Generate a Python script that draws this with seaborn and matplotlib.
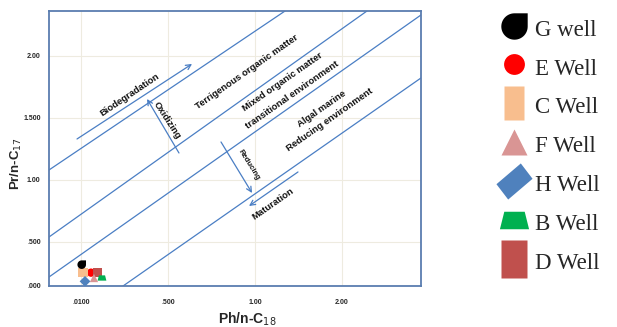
import numpy as np
import pandas as pd
import matplotlib
matplotlib.use("Agg")
import matplotlib.pyplot as plt
from matplotlib.path import Path
from matplotlib.lines import Line2D
import seaborn as sns

# ---------------- data ----------------
wells = ["G well", "E Well", "C Well", "F Well", "H Well", "B Well", "D Well"]
# positions expressed in the chart's own (tick-index) axis units
ph_n_c18 = [0.008, 0.115, 0.020, 0.149, 0.046, 0.241, 0.188]
pr_n_c17 = [0.344, 0.215, 0.215, 0.129, 0.075, 0.129, 0.215]
colors = ["#000000", "#FF0000", "#F8BE8E", "#D99594", "#4F81BD", "#00B050", "#C0504D"]

x_tick_pos = [0, 1, 2, 3]
x_tick_labels = [".0100", ".500", "1.00", "2.00"]
y_tick_pos = [0, 0.71, 1.71, 2.71, 3.71]
y_tick_labels = [".000", ".500", "1.00", "1.500", "2.00"]

# boundary lines (start, end) in axis units
boundary_x = [[-0.368, 2.345], [-0.368, 3.287], [-0.368, 3.908], [0.483, 3.908]]
boundary_y = [[1.871, 4.435], [0.790, 4.435], [0.145, 4.371], [0.0, 3.355]]

# ---------------- markers ----------------
t = np.radians(np.linspace(0, -270, 40))
drop = Path(np.vstack([np.c_[np.cos(t), np.sin(t)], [[1, 1]], [[1, 0]]]))
trap = [(-1, -0.6), (1, -0.6), (0.7, 0.6), (-0.7, 0.6)]
tallrect = [(-0.6, -1), (0.6, -1), (0.6, 1), (-0.6, 1)]
tallrect2 = [(-0.7, -1), (0.7, -1), (0.7, 1), (-0.7, 1)]
diamond = [(-1, -0.15), (-0.35, -1), (1, 0.15), (0.35, 1)]

plot_markers = {"G well": drop, "E Well": "o", "C Well": "s", "F Well": "^",
                "H Well": "D", "B Well": trap, "D Well": "s"}
plot_sizes = {"G well": 38, "E Well": 36, "C Well": 48, "F Well": 36,
              "H Well": 30, "B Well": 40, "D Well": 45}
zorders = {"G well": 5, "E Well": 3, "C Well": 4, "F Well": 5,
           "H Well": 6, "B Well": 5, "D Well": 4}

df = pd.DataFrame({"well": wells, "x": ph_n_c18, "y": pr_n_c17, "color": colors})

# ---------------- figure ----------------
sns.set_style("white")
plt.rcParams["font.family"] = ["Liberation Sans", "DejaVu Sans"]

fig = plt.figure(figsize=(6.17, 3.27), dpi=100)
ax = fig.add_axes([49 / 617, 41 / 327, 372 / 617, 275 / 327])

line_c = "#4A7EC4"
for bx, by in zip(boundary_x, boundary_y):
    sns.lineplot(x=bx, y=by, ax=ax, color=line_c, lw=0.9, sort=False, zorder=2)

for _, r in df.iterrows():
    sns.scatterplot(x=[r.x], y=[r.y], ax=ax, marker=plot_markers[r.well],
                    s=plot_sizes[r.well], color=r.color, edgecolor="none",
                    zorder=zorders[r.well], legend=False)

# arrows
arrows = [((-0.046, 2.371), (1.276, 3.581)),
          ((1.126, 2.145), (0.759, 3.016)),
          ((1.609, 2.323), (1.966, 1.500)),
          ((2.494, 1.839), (1.931, 1.290))]
for s0, s1 in arrows:
    ax.annotate("", xy=s1, xytext=s0,
                arrowprops=dict(arrowstyle="->", color=line_c, lw=0.9,
                                shrinkA=0, shrinkB=0, mutation_scale=9))

tkw = dict(ha="center", va="center", rotation_mode="anchor",
           fontweight="bold", color="#111111")
fs = 6.8
ax.text(0.563, 3.08, "Biodegradation", rotation=34, fontsize=fs, **tkw)
ax.text(1.908, 3.452, "Terrigenous organic matter", rotation=35, fontsize=fs, **tkw)
ax.text(2.322, 3.29, "Mixed organic matter", rotation=35, fontsize=fs, **tkw)
ax.text(2.425, 3.08, "transitional environment", rotation=35, fontsize=fs, **tkw)
ax.text(2.77, 2.855, "Algal marine", rotation=35, fontsize=fs, **tkw)
ax.text(2.862, 2.677, "Reducing environment", rotation=35, fontsize=fs, **tkw)
ax.text(0.989, 2.677, "Oxidizing", rotation=-57, fontsize=fs, **tkw)
ax.text(1.93, 1.95, "Reducing", rotation=-58, fontsize=5.5, **tkw)
ax.text(2.207, 1.32, "Maturation", rotation=35, fontsize=fs, **tkw)

ax.set_xlim(-0.368, 3.908)
ax.set_ylim(0, 4.435)
ax.set_xticks(x_tick_pos)
ax.set_xticklabels(x_tick_labels, fontsize=5, fontweight="bold")
ax.set_yticks(y_tick_pos)
ax.set_yticklabels(y_tick_labels, fontsize=5, fontweight="bold")
ax.tick_params(axis="x", length=0, pad=9)
ax.tick_params(axis="y", length=0, pad=6)
ax.grid(True, color="#EEEBE0", lw=0.8)
ax.set_axisbelow(True)
for sp in ax.spines.values():
    sp.set_color("#5A7DB0")
    sp.set_linewidth(1.3)

ax.set_xlabel("Ph/n-C$_{18}$", fontsize=10, fontweight="bold")
ax.set_ylabel("Pr/n-C$_{17}$", fontsize=9.5, fontweight="bold")
ax.xaxis.set_label_coords(0.532, -0.088)
ax.yaxis.set_label_coords(-0.066, 0.447)

# ---------------- legend ----------------
leg_markers = [drop, "o", tallrect, "^", diamond, trap, tallrect2]
leg_sizes = [19, 15, 24, 19, 26, 21, 27]
handles = [Line2D([], [], linestyle="none", marker=m, markersize=ms,
                  markerfacecolor=c, markeredgecolor="none")
           for m, ms, c in zip(leg_markers, leg_sizes, colors)]
leg = fig.legend(handles, wells, loc="upper left",
                 bbox_to_anchor=(490 / 617, 1 - 4 / 327), frameon=False,
                 prop={"family": "Liberation Serif", "size": 16.5},
                 labelspacing=0.6, handlelength=1.1, handletextpad=0.35,
                 borderpad=0, handleheight=1.3)

fig.savefig("out.png", dpi=100)
